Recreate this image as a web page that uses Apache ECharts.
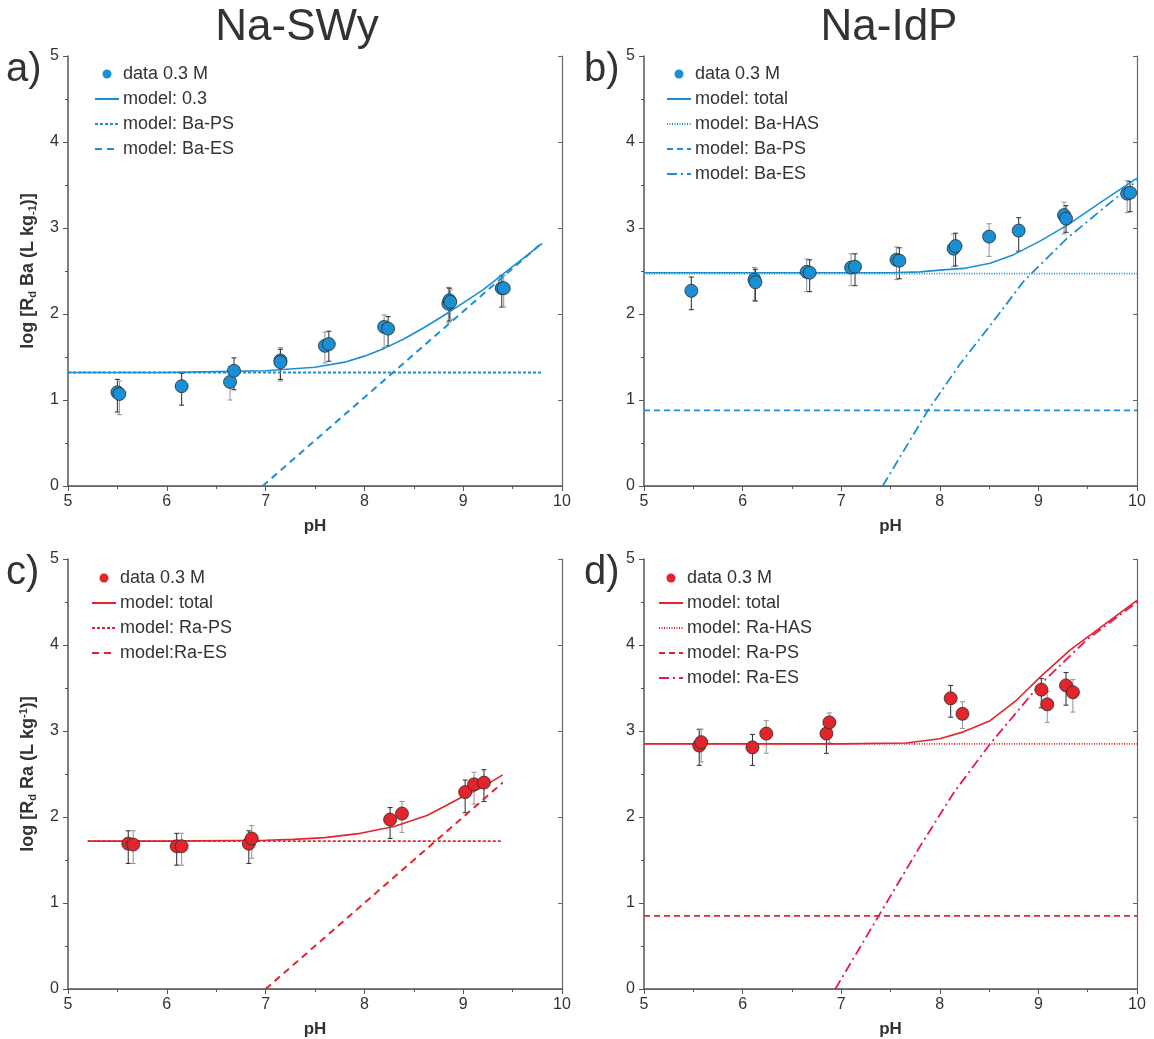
<!DOCTYPE html>
<html>
<head>
<meta charset="utf-8">
<script src="https://cdn.jsdelivr.net/npm/echarts@6/dist/echarts.min.js"></script>
<style>
html,body{margin:0;padding:0;background:#fff;}
#chart{width:1154px;height:1039px;}
</style>
</head>
<body>
<div id="chart"></div>
<script>
// ---------- Panel a: Na-SWy, Ba ----------
const a_ph    = [5.50,5.52,6.15,6.64,6.68,7.15,7.15,7.60,7.64,8.20,8.24,8.85,8.86,8.87,9.39,9.41];
const a_logRd = [1.09,1.07,1.16,1.21,1.34,1.46,1.44,1.63,1.65,1.85,1.83,2.12,2.16,2.14,2.30,2.30];
const a_errLo = [0.86,0.83,0.94,1.00,1.12,1.22,1.24,1.43,1.45,1.61,1.63,1.90,1.92,1.94,2.08,2.08];
const a_errHi = [1.24,1.22,1.31,1.39,1.49,1.61,1.59,1.79,1.80,1.99,1.97,2.31,2.30,2.28,2.45,2.45];
const a_totPh = [5.0,6.0,6.5,7.0,7.5,7.8,8.0,8.2,8.4,8.6,8.8,9.0,9.2,9.4,9.6,9.8];
const a_totY  = [1.32,1.32,1.33,1.34,1.38,1.44,1.51,1.60,1.71,1.84,1.98,2.13,2.28,2.46,2.64,2.82];
const a_psPh  = [5.0,9.8];
const a_psY   = [1.32,1.32];
const a_esPh  = [6.97,9.8];
const a_esY   = [0.0,2.83];

// ---------- Panel b: Na-IdP, Ba ----------
const b_ph    = [5.48,6.12,6.13,6.65,6.68,7.10,7.14,7.56,7.59,8.14,8.16,8.50,8.80,9.26,9.28,9.90,9.93];
const b_logRd = [2.27,2.40,2.37,2.49,2.48,2.54,2.55,2.63,2.62,2.76,2.79,2.90,2.97,3.15,3.11,3.40,3.41];
const b_errLo = [2.05,2.16,2.15,2.26,2.26,2.33,2.33,2.40,2.41,2.55,2.56,2.67,2.73,2.93,2.95,3.18,3.19];
const b_errHi = [2.43,2.54,2.52,2.64,2.63,2.70,2.70,2.78,2.77,2.93,2.94,3.05,3.12,3.30,3.26,3.55,3.54];
const b_totPh = [5.0,7.5,7.8,8.0,8.24,8.51,8.75,9.02,9.29,9.62,10.0];
const b_totY  = [2.48,2.48,2.49,2.51,2.53,2.59,2.69,2.85,3.03,3.29,3.58];
const b_hasPh = [5.0,10.0];
const b_hasY  = [2.47,2.47];
const b_psPh  = [5.0,10.0];
const b_psY   = [0.88,0.88];
const b_esPh  = [7.42,7.88,8.20,8.54,8.85,9.29,10.0];
const b_esY   = [0.0,0.88,1.41,1.91,2.38,2.88,3.55];

// ---------- Panel c: Na-SWy, Ra ----------
const c_ph    = [5.61,5.66,6.10,6.15,6.83,6.86,8.26,8.38,9.02,9.11,9.21];
const c_logRd = [1.69,1.68,1.66,1.66,1.69,1.75,1.97,2.04,2.29,2.38,2.40];
const c_errLo = [1.46,1.46,1.44,1.44,1.46,1.52,1.75,1.82,2.05,2.15,2.18];
const c_errHi = [1.84,1.84,1.81,1.81,1.84,1.90,2.11,2.18,2.43,2.52,2.55];
const c_totPh = [5.2,6.0,7.0,7.28,7.6,7.96,8.3,8.64,8.97,9.2,9.4];
const c_totY  = [1.72,1.72,1.73,1.74,1.76,1.81,1.89,2.02,2.22,2.35,2.49];
const c_psPh  = [5.2,9.4];
const c_psY   = [1.72,1.72];
const c_esPh  = [7.0,9.4];
const c_esY   = [0.0,2.40];

// ---------- Panel d: Na-IdP, Ra ----------
const d_ph    = [5.56,5.58,6.10,6.24,6.85,6.88,8.11,8.23,9.03,9.09,9.28,9.35];
const d_logRd = [2.83,2.87,2.81,2.97,2.97,3.10,3.38,3.20,3.48,3.31,3.53,3.45];
const d_errLo = [2.60,2.64,2.60,2.74,2.74,2.86,3.16,3.03,3.27,3.10,3.30,3.22];
const d_errHi = [3.02,3.02,2.96,3.12,3.12,3.21,3.53,3.34,3.61,3.46,3.68,3.60];
const d_totPh = [5.0,7.0,7.66,8.0,8.24,8.51,8.78,9.02,9.32,10.0];
const d_totY  = [2.85,2.85,2.86,2.91,2.99,3.12,3.36,3.63,3.94,4.52];
const d_hasPh = [5.0,10.0];
const d_hasY  = [2.85,2.85];
const d_psPh  = [5.0,10.0];
const d_psY   = [0.85,0.85];
const d_esPh  = [6.94,7.38,7.80,8.14,8.51,9.00,9.49,10.0];
const d_esY   = [0.0,0.85,1.66,2.28,2.85,3.52,4.06,4.50];

// axis ticks
const xMin = 5, xMax = 10, xStep = 1;
const yMin = 0, yMax = 5, yStep = 1;

const panelTitles = ['Na-SWy','Na-IdP'];
const panelLetters = ['a)','b)','c)','d)'];

const FONT = '"Liberation Sans", Arial, Helvetica, sans-serif';
const BLUE = '#1a8fd3';
const RED = '#e3242b';
const PINK = '#e5195a';

const grids = [
  {left:68, top:56, width:494, height:430},
  {left:644, top:56, width:493, height:430},
  {left:68, top:559, width:494, height:430},
  {left:644, top:559, width:493, height:430}
];

function zip(xs, ys){ return xs.map((x,i)=>[x, ys[i]]); }
function zip3(xs, a, b){ return xs.map((x,i)=>[x, a[i], b[i]]); }

const xAxes = [], yAxes = [];
grids.forEach((g, i) => {
  xAxes.push({
    gridIndex:i, type:'value', min:xMin, max:xMax, interval:xStep,
    axisLine:{lineStyle:{color:'#555', width:1.5}},
    axisTick:{length:5, lineStyle:{color:'#555'}},
    minorTick:{show:true, splitNumber:2, length:3, lineStyle:{color:'#555'}},
    splitLine:{show:false},
    axisLabel:{color:'#333', fontSize:16, fontFamily:FONT, margin:8},
    name:'pH', nameLocation:'middle', nameGap:32,
    nameTextStyle:{fontSize:17, fontWeight:'bold', color:'#333', fontFamily:FONT}
  });
  xAxes.push({
    gridIndex:i, type:'value', min:xMin, max:xMax, position:'top',
    axisLine:{show:true, lineStyle:{color:'#666', width:1.2}},
    axisTick:{show:false}, axisLabel:{show:false}, splitLine:{show:false}
  });
  const yNameA = '{n|log [R}{s|d}{n| Ba (L kg}{s|-1}{n|)]}';
  const yNameC = '{n|log [R}{s|d}{n| Ra (L kg}{p|-1}{n|)]}';
  yAxes.push({
    gridIndex:i, type:'value', min:yMin, max:yMax, interval:yStep,
    axisLine:{lineStyle:{color:'#555', width:1.5}},
    axisTick:{length:5, lineStyle:{color:'#555'}},
    minorTick:{show:true, splitNumber:2, length:3, lineStyle:{color:'#555'}},
    splitLine:{show:false},
    axisLabel:{color:'#333', fontSize:16, fontFamily:FONT, margin:9},
    name: i===0 ? yNameA : (i===2 ? yNameC : ''),
    nameLocation:'middle', nameGap:30, nameRotate:90,
    nameTextStyle:{
      rich:{
        n:{fontSize:18, fontWeight:'bold', color:'#333', fontFamily:FONT, lineHeight:20},
        s:{fontSize:11, fontWeight:'bold', color:'#333', fontFamily:FONT, verticalAlign:'bottom', lineHeight:12, padding:[6,0,0,0]},
        p:{fontSize:11, fontWeight:'bold', color:'#333', fontFamily:FONT, verticalAlign:'top', lineHeight:12, padding:[0,0,8,0]}
      }
    }
  });
  yAxes.push({
    gridIndex:i, type:'value', min:yMin, max:yMax, interval:yStep, position:'right',
    axisLine:{show:true, lineStyle:{color:'#666', width:1.2}},
    axisTick:{show:true, inside:true, length:4, lineStyle:{color:'#666'}},
    axisLabel:{show:false}, splitLine:{show:false}
  });
});

const series = [];
function errSeries(name, gi, data){
  series.push({
    name:name, type:'custom', xAxisIndex:gi*2, yAxisIndex:gi*2, z:3,
    data:data, encode:{x:0, y:[1,2]}, silent:true,
    renderItem:function(params, api){
      const x = api.value(0), lo = api.value(1), hi = api.value(2);
      const p1 = api.coord([x, lo]), p2 = api.coord([x, hi]);
      const c = params.dataIndex % 2 ? '#9a9a9a' : '#3a3a3a';
      const st = {stroke:c, lineWidth:1.1};
      return {type:'group', children:[
        {type:'line', shape:{x1:p1[0], y1:p1[1], x2:p2[0], y2:p2[1]}, style:st},
        {type:'line', shape:{x1:p1[0]-2.5, y1:p1[1], x2:p1[0]+2.5, y2:p1[1]}, style:st},
        {type:'line', shape:{x1:p2[0]-2.5, y1:p2[1], x2:p2[0]+2.5, y2:p2[1]}, style:st}
      ]};
    }
  });
}
function scatterSeries(name, gi, data, color){
  series.push({
    name:name, type:'scatter', xAxisIndex:gi*2, yAxisIndex:gi*2, z:5,
    data:data, symbol:'circle', symbolSize:13,
    itemStyle:{color:color, borderColor:'#2b2b2b', borderWidth:0.8, opacity:1}
  });
}
function lineSeries(name, gi, data, color, type, width){
  series.push({
    name:name, type:'line', xAxisIndex:gi*2, yAxisIndex:gi*2, z:4,
    data:data, symbol:'none', showSymbol:false, smooth:false,
    lineStyle:{color:color, type:type, width:width}, itemStyle:{color:color}
  });
}

// panel a
errSeries('a|err', 0, zip3(a_ph, a_errLo, a_errHi));
lineSeries('a|model: Ba-PS', 0, zip(a_psPh, a_psY), BLUE, [3,2], 1.8);
lineSeries('a|model: Ba-ES', 0, zip(a_esPh, a_esY), BLUE, [7,5], 2);
lineSeries('a|model: 0.3', 0, zip(a_totPh, a_totY), BLUE, 'solid', 1.6);
scatterSeries('a|data 0.3 M', 0, zip(a_ph, a_logRd), BLUE);

// panel b
errSeries('b|err', 1, zip3(b_ph, b_errLo, b_errHi));
lineSeries('b|model: Ba-HAS', 1, zip(b_hasPh, b_hasY), BLUE, [1,1.5], 1.8);
lineSeries('b|model: Ba-PS', 1, zip(b_psPh, b_psY), BLUE, [6,4], 1.8);
lineSeries('b|model: Ba-ES', 1, zip(b_esPh, b_esY), BLUE, [10,4,2,4], 1.8);
lineSeries('b|model: total', 1, zip(b_totPh, b_totY), BLUE, 'solid', 1.6);
scatterSeries('b|data 0.3 M', 1, zip(b_ph, b_logRd), BLUE);

// panel c
errSeries('c|err', 2, zip3(c_ph, c_errLo, c_errHi));
lineSeries('c|model: Ra-PS', 2, zip(c_psPh, c_psY), RED, [3,2], 1.8);
lineSeries('c|model:Ra-ES', 2, zip(c_esPh, c_esY), RED, [7,5], 2);
lineSeries('c|model: total', 2, zip(c_totPh, c_totY), RED, 'solid', 1.6);
scatterSeries('c|data 0.3 M', 2, zip(c_ph, c_logRd), RED);

// panel d
errSeries('d|err', 3, zip3(d_ph, d_errLo, d_errHi));
lineSeries('d|model: Ra-HAS', 3, zip(d_hasPh, d_hasY), RED, [1,1.5], 1.8);
lineSeries('d|model: Ra-PS', 3, zip(d_psPh, d_psY), RED, [6,4], 1.8);
lineSeries('d|model: Ra-ES', 3, zip(d_esPh, d_esY), PINK, [10,4,2,4], 1.8);
lineSeries('d|model: total', 3, zip(d_totPh, d_totY), RED, 'solid', 1.6);
scatterSeries('d|data 0.3 M', 3, zip(d_ph, d_logRd), RED);

function legendFor(prefix, names, left, top){
  return {
    orient:'vertical', left:left, top:top, itemGap:7, itemWidth:24, itemHeight:9,
    selectedMode:false, padding:0,
    data: names.map((n, k) => k === 0
      ? {name: prefix + '|' + n, itemStyle:{borderWidth:0}}
      : {name: prefix + '|' + n, itemStyle:{opacity:0}}),
    formatter: function(name){ return name.split('|')[1]; },
    textStyle:{fontSize:18, color:'#333', fontFamily:FONT, padding:[0,0,0,-1]}
  };
}
const legends = [
  legendFor('a', ['data 0.3 M','model: 0.3','model: Ba-PS','model: Ba-ES'], 94, 65),
  legendFor('b', ['data 0.3 M','model: total','model: Ba-HAS','model: Ba-PS','model: Ba-ES'], 666, 65),
  legendFor('c', ['data 0.3 M','model: total','model: Ra-PS','model:Ra-ES'], 91, 569),
  legendFor('d', ['data 0.3 M','model: total','model: Ra-HAS','model: Ra-PS','model: Ra-ES'], 658, 569)
];

const graphics = [
  {type:'text', style:{text:panelTitles[0], font:'44px '+FONT, fill:'#333', textAlign:'center'}, x:297, y:6},
  {type:'text', style:{text:panelTitles[1], font:'44px '+FONT, fill:'#333', textAlign:'center'}, x:889, y:6},
  {type:'text', style:{text:panelLetters[0], font:'40px '+FONT, fill:'#333'}, x:6, y:50},
  {type:'text', style:{text:panelLetters[1], font:'40px '+FONT, fill:'#333'}, x:584, y:50},
  {type:'text', style:{text:panelLetters[2], font:'40px '+FONT, fill:'#333'}, x:6, y:553},
  {type:'text', style:{text:panelLetters[3], font:'40px '+FONT, fill:'#333'}, x:584, y:553}
];

const chart = echarts.init(document.getElementById('chart'), null, {renderer:'canvas'});
chart.setOption({
  animation:false,
  backgroundColor:'#fff',
  grid:grids,
  xAxis:xAxes,
  yAxis:yAxes,
  legend:legends,
  graphic:graphics,
  series:series
});
</script>
</body>
</html>
